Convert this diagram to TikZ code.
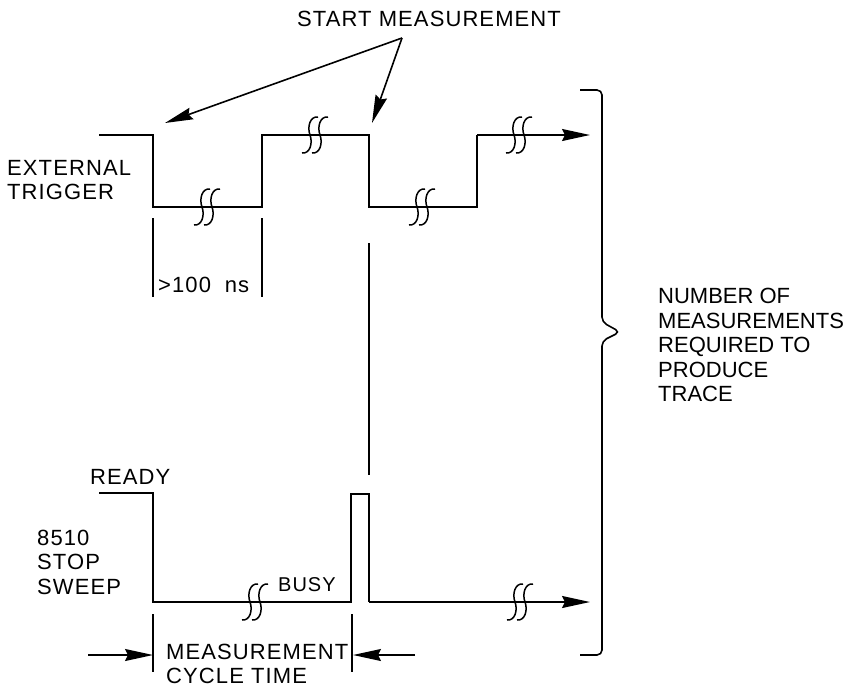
\documentclass[tikz,border=0pt]{standalone}
\usepackage{fontspec}
\newfontfamily\cadfont[LetterSpace=5]{Liberation Sans}
\newfontfamily\cadnarrow{Liberation Sans}
\usepackage{tikz}
\usetikzlibrary{arrows.meta,calc,positioning}
\tikzset{
    sigline/.style={line width=1.8pt,draw=black,line join=miter},
    tickline/.style={line width=1.6pt,draw=black},
    leadarrow/.style={line width=1.6pt,draw=black,-{Stealth[length=28pt,width=12pt,inset=3pt]}},
    cadtext/.style={font={\cadfont\fontsize{22}{24.5}\selectfont},inner sep=0pt,align=left},
    brkmark/.pic={
        \foreach \dx in {-5,5}{
            \draw[line width=1.5pt,xshift=\dx pt]
                (8,-18) .. controls (0,-19) and (-3,-8) .. (0,0)
                .. controls (3,8) and (0,19) .. (-8,18);
        }
    }
}
\begin{document}
\begin{tikzpicture}[x=1pt,y=-1pt]
    \useasboundingbox (0,0) rectangle (856,688);

    % 外触发信号
    \coordinate (t0) at (99,135);
    \coordinate (t1) at (153,135);
    \coordinate (t2) at (153,207);
    \coordinate (t3) at (262,207);
    \coordinate (t4) at (262,135);
    \coordinate (t5) at (369,135);
    \coordinate (t6) at (369,207);
    \coordinate (t7) at (477,207);
    \coordinate (t8) at (477,135);
    \coordinate (t9) at (590,135);
    \draw[sigline] (t0)--(t1)--(t2)--(t3)--(t4)--(t5)--(t6)--(t7)--(t8);
    \draw[leadarrow,line width=1.8pt] (t8)--(t9);

    % 8510 扫描信号
    \coordinate (s0) at (99,493);
    \coordinate (s1) at (153,493);
    \coordinate (s2) at (153,602);
    \coordinate (s3) at (351,602);
    \coordinate (s4) at (351,494);
    \coordinate (s5) at (369,494);
    \coordinate (s6) at (369,602);
    \coordinate (s7) at (590,602);
    \draw[sigline] (s0)--(s1)--(s2)--(s3)--(s4)--(s5)--(s6);
    \draw[leadarrow,line width=1.8pt] (s6)--(s7);

    % 断开符号
    \pic at (207,207) {brkmark};
    \pic at (315,135) {brkmark};
    \pic at (422,207) {brkmark};
    \pic at (519,135) {brkmark};
    \pic at (255,602) {brkmark};
    \pic at (520,602) {brkmark};

    % 开始测量
    \node[cadtext] (start) at (429,19) {START MEASUREMENT};
    \coordinate (sm) at (402,38);
    \coordinate (sma) at (165,123);
    \coordinate (smb) at (372,123);
    \draw[leadarrow] (sm)--(sma);
    \draw[leadarrow] (sm)--(smb);

    % 标记线
    \coordinate (ga) at (153,218);
    \coordinate (gb) at (153,297);
    \coordinate (gc) at (262,218);
    \coordinate (gd) at (262,297);
    \draw[tickline] (ga)--(gb);
    \draw[tickline] (gc)--(gd);
    \node[cadtext,anchor=west] (gap) at (158,285) {>100\hspace{0.3em} ns};
    \coordinate (la) at (369,243);
    \coordinate (lb) at (369,475);
    \draw[tickline] (la)--(lb);

    % 测量周期
    \coordinate (ca) at (153,614);
    \coordinate (cb) at (153,672);
    \coordinate (cc) at (352,614);
    \coordinate (cd) at (352,672);
    \draw[tickline] (ca)--(cb);
    \draw[tickline] (cc)--(cd);
    \coordinate (cl) at (88,655);
    \coordinate (cr) at (415,655);
    \draw[leadarrow] (cl)--(153,655);
    \draw[leadarrow] (cr)--(353,655);
    \node[cadtext,anchor=west] (cyc) at (166,664) {MEASUREMENT\\CYCLE TIME};

    % 括号
    \draw[tickline,rounded corners=5pt]
        (580,90)--(602,90)--(602,322)--(620,332)--(602,341)--(602,655)--(580,655);
    \node[cadtext,anchor=west,font={\cadnarrow\fontsize{22}{24.5}\selectfont}] (num) at (658,345)
        {NUMBER OF\\MEASUREMENTS\\REQUIRED TO\\PRODUCE\\TRACE};

    % 左侧文字
    \node[cadtext,anchor=west] (ext) at (7,180) {EXTERNAL\\TRIGGER};
    \node[cadtext,anchor=west] (ready) at (90,477) {READY};
    \node[cadtext,anchor=west] (sweep) at (37,562) {8510\\STOP\\SWEEP};
    \node[cadtext,anchor=west,font={\cadfont\fontsize{20}{24}\selectfont}] (busy) at (278,585) {BUSY};
\end{tikzpicture}
\end{document}
